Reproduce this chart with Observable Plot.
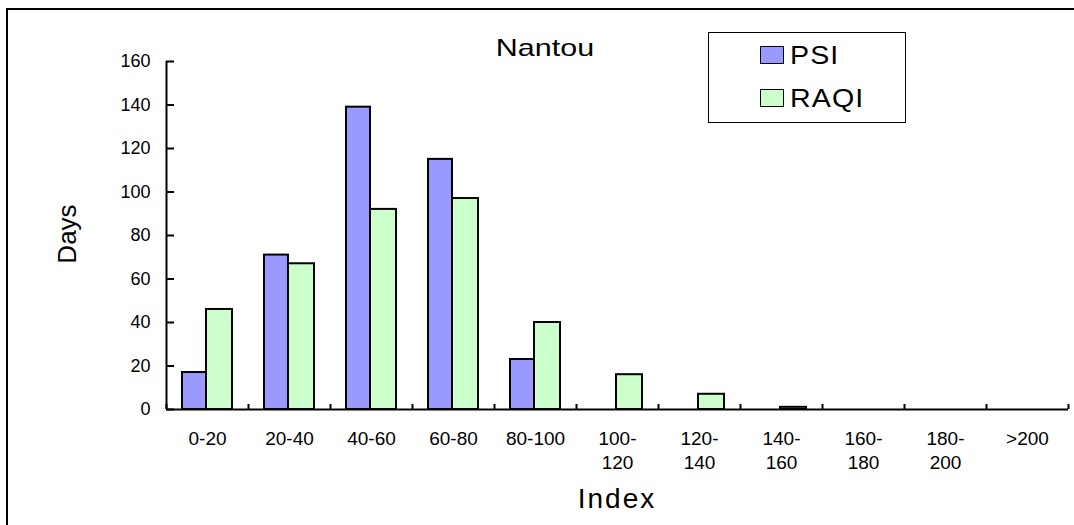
<!DOCTYPE html>
<html>
<head>
<meta charset="utf-8">
<script src="https://cdn.jsdelivr.net/npm/d3@7"></script>
<script src="https://cdn.jsdelivr.net/npm/@observablehq/plot@0.6"></script>
<style>
  html, body { margin: 0; padding: 0; background: #fff; }
  #wrap { position: relative; width: 1074px; height: 525px; overflow: hidden; font-family: "Liberation Sans", Arial, sans-serif; color: #000; }
  #wrap svg { position: absolute; left: 0; top: 0; }
  #border { position: absolute; left: 6px; top: 8px; width: 1100px; height: 560px; border: 2px solid #000; box-sizing: border-box; }
  #title { position: absolute; left: 545px; top: 34px; font-size: 24px; transform: translateX(-50%) scaleX(1.27); white-space: nowrap; }
  #legend { position: absolute; left: 708px; top: 32px; width: 198px; height: 91px; border: 1.5px solid #000; box-sizing: border-box; }
  .item { position: absolute; left: 51px; height: 30px; display: flex; align-items: center; font-size: 26px; }
  .item span { display: inline-block; transform-origin: left center; transform: scaleX(1.1); letter-spacing: 1px; }
  .sw { width: 24px; height: 18px; border: 1.5px solid #000; box-sizing: border-box; margin-right: 6px; }
  #ylabel { position: absolute; left: 67px; top: 234px; font-size: 26px; transform: translate(-50%, -50%) rotate(-90deg); white-space: nowrap; }
  #xlabel { position: absolute; left: 617px; top: 499px; font-size: 28px; letter-spacing: 2px; transform: translate(-50%, -50%); white-space: nowrap; }
</style>
</head>
<body>
<div id="wrap">
  <div id="chart"></div>
  <div id="border"></div>
  <div id="title"></div>
  <div id="legend"></div>
  <div id="ylabel"></div>
  <div id="xlabel"></div>
</div>
<script>
// ---- data ----
const categories = ["0-20", "20-40", "40-60", "60-80", "80-100", "100-120", "120-140", "140-160", "160-180", "180-200", ">200"];
const tickLabels = ["0-20", "20-40", "40-60", "60-80", "80-100", "100-\n120", "120-\n140", "140-\n160", "160-\n180", "180-\n200", ">200"];
const psi  = [17, 71, 139, 115, 23, 0, 0, 0, 0, 0, 0];
const raqi = [46, 67, 92, 97, 40, 16, 7, 1, 0, 0, 0];
const yTicks = [0, 20, 40, 60, 80, 100, 120, 140, 160];
const seriesNames = ["PSI", "RAQI"];
const seriesColors = ["#9999FF", "#CCFFCC"];
const titleText = "Nantou";
const xTitle = "Index";
const yTitle = "Days";

// ---- table ----
const rows = [];
categories.forEach((c, i) => {
  rows.push({category: c, series: "PSI", value: psi[i]});
  rows.push({category: c, series: "RAQI", value: raqi[i]});
});
const labelOf = new Map(categories.map((c, i) => [c, tickLabels[i]]));
const psiRows = rows.filter(d => d.series === "PSI" && d.value > 0);
const raqiRows = rows.filter(d => d.series === "RAQI" && d.value > 0);

const plot = Plot.plot({
  width: 1074,
  height: 525,
  marginLeft: 166,
  marginRight: 6,
  marginTop: 61,
  marginBottom: 116,
  style: {fontFamily: "'Liberation Sans', Arial, sans-serif", color: "#000", background: "transparent", overflow: "visible"},
  x: {domain: categories, padding: 0, axis: null},
  y: {domain: [0, 160], axis: null},
  color: {domain: seriesNames, range: seriesColors},
  marks: [
    Plot.barY(psiRows, {x: "category", y: "value", fill: "series", stroke: "#000", strokeWidth: 2, insetLeft: 16, insetRight: 42}),
    Plot.barY(raqiRows, {x: "category", y: "value", fill: "series", stroke: "#000", strokeWidth: 2, insetLeft: 40, insetRight: 16}),
    // axis lines
    Plot.ruleY([0], {stroke: "#000", strokeWidth: 2}),
    Plot.ruleX([categories[0]], {dx: -41, y1: 0, y2: 160, stroke: "#000", strokeWidth: 2}),
    // y axis labels and inward ticks
    Plot.axisY({ticks: yTicks, tickSize: 0, tickPadding: 16, fontSize: 18, tickFormat: d => d, label: null}),
    Plot.axisY({ticks: yTicks, tickSize: -8, tickFormat: () => "", label: null, strokeWidth: 2}),
    // x axis labels
    Plot.axisX({ticks: categories, tickSize: 0, tickPadding: 19, fontSize: 19, lineHeight: 1.25, tickFormat: d => labelOf.get(d), label: null}),
    // x axis boundary ticks (inward)
    Plot.axisX({ticks: categories, tickSize: -5, dx: -41, tickFormat: () => "", label: null, strokeWidth: 2}),
    Plot.axisX({ticks: [categories[categories.length - 1]], tickSize: -5, dx: 41, tickFormat: () => "", label: null, strokeWidth: 2})
  ]
});
document.getElementById("chart").appendChild(plot);

// ---- overlays ----
document.getElementById("title").textContent = titleText;
document.getElementById("xlabel").textContent = xTitle;
document.getElementById("ylabel").textContent = yTitle;
const legend = document.getElementById("legend");
seriesNames.forEach((name, i) => {
  const item = document.createElement("div");
  item.className = "item";
  item.style.top = (i === 0 ? 7 : 50) + "px";
  const sw = document.createElement("div");
  sw.className = "sw";
  sw.style.background = seriesColors[i];
  const t = document.createElement("span");
  t.textContent = name;
  item.appendChild(sw);
  item.appendChild(t);
  legend.appendChild(item);
});
</script>
</body>
</html>
